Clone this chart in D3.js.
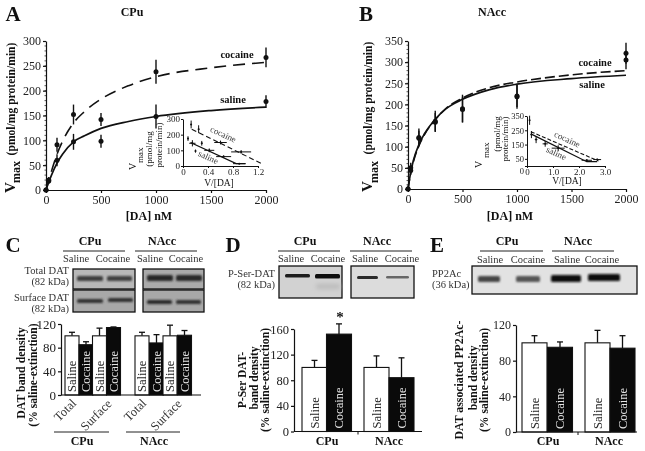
<!DOCTYPE html>
<html>
<head>
<meta charset="utf-8">
<script src="https://d3js.org/d3.v7.min.js"></script>
<style>
  html, body { margin: 0; padding: 0; background: #fff; }
  svg { filter: blur(0.3px); }
  svg text { font-family: "Liberation Serif", serif; fill: #111; }
</style>
</head>
<body>
<svg id="fig" width="645" height="451"></svg>
<script>
// Panel A values
var doseTicks = [0, 500, 1000, 1500, 2000];
var curveDoses = [0, 25, 50, 100, 150, 250, 350, 500, 750, 1000, 1500, 2000];
var aSalineCurve = [0, 16, 30, 54, 72, 97, 109, 124, 138, 148, 160, 167];
var aCocaineCurve = [0, 19, 38, 72, 98, 135, 158, 183, 210, 228, 246, 257];
var pointDoses = [0, 25, 100, 250, 500, 1000, 2000];
var aSalineY = [0, 18, 60, 97, 98, 148, 178];
var aSalineErr = [0, 6, 12, 16, 13, 24, 13];
var aCocaineY = [0, 20, 91, 152, 142, 238, 267];
var aCocaineErr = [0, 6, 14, 20, 13, 24, 20];
var aInsetCocaineLineX = [0.14, 1.26];
var aInsetCocaineLineY = [235, 15];
var aInsetSalineLineX = [0.12, 0.85, 1.0];
var aInsetSalineLineY = [150, 15, 15];
var aInsetX = [0.13, 0.25, 0.6, 0.93, 0.08, 0.15, 0.3, 0.2, 0.42, 0.65, 0.9];
var aInsetY = [265, 235, 150, 90, 175, 145, 145, 95, 100, 60, 15];
var aInsetXErr = [0.01, 0.01, 0.1, 0.16, 0.01, 0.05, 0.01, 0.01, 0.08, 0.12, 0.1];
var aInsetYErr = [25, 25, 12, 12, 15, 20, 15, 10, 12, 8, 3];

// Panel B values
var bSalineCurve = [0, 40, 68, 105, 130, 165, 190, 212, 235, 248, 261, 269];
var bCocaineCurve = [0, 38, 65, 102, 128, 164, 191, 215, 240, 253, 270, 280];
var bSalineY = [0, 50, 122, 160, 190, 218, 305];
var bSalineErr = [0, 12, 21, 25, 33, 28, 22];
var bCocaineY = [0, 44, 120, 158, 188, 220, 321];
var bCocaineErr = [0, 10, 18, 22, 30, 26, 25];
var bInsetCocaineLineX = [0.15, 2.75];
var bInsetCocaineLineY = [240, 35];
var bInsetSalineLineX = [0.15, 2.3, 2.7];
var bInsetSalineLineY = [225, 30, 30];
var bInsetX = [0.1, 0.17, 0.35, 0.7, 1.2, 2.3, 2.7];
var bInsetY = [320, 220, 185, 155, 125, 40, 45];
var bInsetXErr = [0.01, 0.03, 0.05, 0.1, 0.25, 0.2, 0.15];
var bInsetYErr = [32, 25, 25, 20, 20, 8, 6];

// Bar panels
var cLabels = ["Saline", "Cocaine", "Saline", "Cocaine", "Saline", "Cocaine", "Saline", "Cocaine"];
var cValues = [100, 85, 100, 114, 100, 88, 100, 101];
var cErrors = [6, 5, 13, 1, 6, 14, 18, 8];
var cTicks = [0, 40, 80, 120];
var dLabels = ["Saline", "Cocaine", "Saline", "Cocaine"];
var dValues = [100, 152, 100, 84];
var dErrors = [11, 16, 18, 31];
var dTicks = [0, 40, 80, 120, 160];
var eLabels = ["Saline", "Cocaine", "Saline", "Cocaine"];
var eValues = [100, 95, 100, 94];
var eErrors = [8, 6, 14, 14];
var eTicks = [0, 40, 80, 120];

var svg = d3.select("#fig");
var defs = svg.append("defs");
[0.7, 1.1, 1.6, 2.2].forEach(function (s, i) {
  defs.append("filter").attr("id", "blur" + i)
    .attr("x", "-20%").attr("y", "-150%").attr("width", "140%").attr("height", "400%")
    .append("feGaussianBlur").attr("stdDeviation", s);
});

function label(g, x, y, str, size, opts) {
  opts = opts || {};
  var t = g.append("text").attr("x", x).attr("y", y)
    .attr("font-size", size)
    .attr("text-anchor", opts.anchor || "middle")
    .attr("font-weight", opts.bold ? "bold" : "normal")
    .text(str);
  if (opts.fill) t.style("fill", opts.fill);
  if (opts.rotate != null) t.attr("transform", "rotate(" + opts.rotate + "," + x + "," + y + ")");
  return t;
}

function styleAxis(g, size, sw) {
  g.selectAll("path").attr("stroke", "#111").attr("stroke-width", sw);
  g.selectAll("line").attr("stroke", "#111").attr("stroke-width", sw);
  g.selectAll("text").attr("font-size", size).attr("font-family", "Liberation Serif").style("fill", "#222");
}

// Saturation plot: curves, points, axes
function kinetic(cfg) {
  var g = svg.append("g");
  var x = d3.scaleLinear().domain([0, 2000]).range(cfg.xRange);
  var y = d3.scaleLinear().domain(cfg.yDomain).range(cfg.yRange);
  var line = d3.line().x(function (d) { return x(d[0]); }).y(function (d) { return y(d[1]); })
    .curve(d3.curveMonotoneX);

  var yAxis = g.append("g").attr("transform", "translate(" + cfg.xRange[0] + ",0)")
    .call(d3.axisLeft(y).tickValues(cfg.yTicks).tickSize(3).tickPadding(2).tickSizeOuter(0));
  styleAxis(yAxis, 12, 1.2);
  var xAxis = g.append("g").attr("transform", "translate(0," + cfg.yRange[0] + ")")
    .call(d3.axisBottom(x).tickValues(doseTicks).tickSize(3).tickPadding(2).tickSizeOuter(0).tickFormat(d3.format("d")));
  styleAxis(xAxis, 12, 1.2);
  // minor ticks
  g.selectAll(".minorY").data(d3.range(cfg.yDomain[0], cfg.yDomain[1], cfg.yMinor)).enter().append("line")
    .attr("x1", cfg.xRange[0] - 1.5).attr("x2", cfg.xRange[0])
    .attr("y1", function (d) { return y(d); }).attr("y2", function (d) { return y(d); })
    .attr("stroke", "#111").attr("stroke-width", 0.7);

  g.append("path").datum(d3.zip(curveDoses, cfg.cocaine)).attr("d", line)
    .attr("fill", "none").attr("stroke", "#111").attr("stroke-width", 1.6).attr("stroke-dasharray", cfg.dash);
  g.append("path").datum(d3.zip(curveDoses, cfg.saline)).attr("d", line)
    .attr("fill", "none").attr("stroke", "#111").attr("stroke-width", 1.7);

  [[cfg.salineY, cfg.salineErr], [cfg.cocaineY, cfg.cocaineErr]].forEach(function (s) {
    pointDoses.forEach(function (dose, i) {
      g.append("line").attr("x1", x(dose)).attr("x2", x(dose))
        .attr("y1", y(s[0][i] - s[1][i])).attr("y2", y(s[0][i] + s[1][i]))
        .attr("stroke", "#111").attr("stroke-width", 1.4);
      g.append("circle").attr("cx", x(dose)).attr("cy", y(s[0][i])).attr("r", 2.5).attr("fill", "#111");
    });
  });
  return g;
}

// Lineweaver style inset
function inset(cfg) {
  var g = svg.append("g");
  var x = d3.scaleLinear().domain(cfg.xDomain).range(cfg.xRange);
  var y = d3.scaleLinear().domain(cfg.yDomain).range(cfg.yRange);
  var yAxis = g.append("g").attr("transform", "translate(" + cfg.xRange[0] + ",0)")
    .call(d3.axisLeft(y).tickValues(cfg.yTicks).tickSize(2).tickPadding(1).tickSizeOuter(0));
  styleAxis(yAxis, cfg.tickFont || 9, 1);
  // the zero label sits a little low so it clears the tick above it
  if (cfg.zeroDy) {
    yAxis.selectAll(".tick text").filter(function (d) { return d === 0; }).attr("dy", cfg.zeroDy);
  }
  var xAxis = g.append("g").attr("transform", "translate(0," + cfg.yRange[0] + ")")
    .call(d3.axisBottom(x).tickValues(cfg.xTicks).tickSize(2).tickPadding(1).tickSizeOuter(0)
      .tickFormat(function (d) { return d === 0 ? "0" : d3.format(".1f")(d); }));
  styleAxis(xAxis, 9, 1);
  var line = d3.line().x(function (d) { return x(d[0]); }).y(function (d) { return y(d[1]); });
  g.append("path").datum(d3.zip(cfg.cocX, cfg.cocY)).attr("d", line)
    .attr("fill", "none").attr("stroke", "#111").attr("stroke-width", 1.1).attr("stroke-dasharray", cfg.dash);
  g.append("path").datum(d3.zip(cfg.salX, cfg.salY)).attr("d", line)
    .attr("fill", "none").attr("stroke", "#111").attr("stroke-width", 1.3);
  cfg.px.forEach(function (px, i) {
    var py = cfg.py[i];
    g.append("line").attr("x1", x(px - cfg.pxe[i])).attr("x2", x(px + cfg.pxe[i]))
      .attr("y1", y(py)).attr("y2", y(py)).attr("stroke", "#111").attr("stroke-width", 1);
    g.append("line").attr("x1", x(px)).attr("x2", x(px))
      .attr("y1", y(py - cfg.pye[i])).attr("y2", y(py + cfg.pye[i])).attr("stroke", "#111").attr("stroke-width", 1);
    g.append("circle").attr("cx", x(px)).attr("cy", y(py)).attr("r", 1).attr("fill", "#111");
  });
  return g;
}

// Bar chart with error caps
function bars(cfg) {
  var g = svg.append("g");
  var y = d3.scaleLinear().domain([0, cfg.yMax]).range(cfg.yRange);
  var x = d3.scaleBand().domain(d3.range(cfg.values.length)).range(cfg.xRange);
  var barX = function (i) { return cfg.barX ? cfg.barX(i) : x(i); };
  var barW = cfg.barW || x.bandwidth();

  cfg.values.forEach(function (v, i) {
    var cx = barX(i) + barW / 2;
    var capW = cfg.capW;
    g.append("line").attr("x1", cx).attr("x2", cx).attr("y1", y(v)).attr("y2", y(v + cfg.errors[i]))
      .attr("stroke", "#111").attr("stroke-width", 1.3);
    g.append("line").attr("x1", cx - capW).attr("x2", cx + capW)
      .attr("y1", y(v + cfg.errors[i])).attr("y2", y(v + cfg.errors[i]))
      .attr("stroke", "#111").attr("stroke-width", 1.3);
    var dark = cfg.labels[i] === "Cocaine";
    g.append("rect").attr("x", barX(i)).attr("y", y(v)).attr("width", barW).attr("height", y(0) - y(v))
      .attr("fill", dark ? "#0a0a0a" : "#fff").attr("stroke", "#111").attr("stroke-width", 1.1);
    var tx = cx + cfg.labelSize * 0.33;
    g.append("text").attr("transform", "translate(" + tx + "," + (y(0) - 3) + ") rotate(-90)")
      .attr("font-size", cfg.labelSize).style("fill", dark ? "#e4e4e4" : "#222").text(cfg.labels[i]);
  });

  var yAxis = g.append("g").attr("transform", "translate(" + cfg.axisX + ",0)")
    .call(d3.axisLeft(y).tickValues(cfg.ticks).tickSize(3).tickPadding(2).tickSizeOuter(0));
  styleAxis(yAxis, cfg.tickFont, 1.2);
  g.append("line").attr("x1", cfg.axisX).attr("x2", cfg.baseEnd).attr("y1", y(0)).attr("y2", y(0))
    .attr("stroke", "#111").attr("stroke-width", 1.2);
  if (cfg.midTick) {
    g.append("line").attr("x1", cfg.midTick).attr("x2", cfg.midTick).attr("y1", y(0)).attr("y2", y(0) + 3)
      .attr("stroke", "#111").attr("stroke-width", 1);
  }
  return { g: g, y: y };
}

// Western blot box with soft bands
function blot(x, y, w, h, bg, bands) {
  var g = svg.append("g");
  g.append("rect").attr("x", x).attr("y", y).attr("width", w).attr("height", h)
    .attr("fill", bg).attr("stroke", "#111").attr("stroke-width", 1.3);
  bands.forEach(function (b) {
    g.append("rect").attr("x", b[0]).attr("y", b[1]).attr("width", b[2]).attr("height", b[3])
      .attr("rx", 1.5).attr("fill", b[4]).attr("filter", "url(#blur" + b[5] + ")");
  });
}

function rule(x1, x2, y) {
  svg.append("line").attr("x1", x1).attr("x2", x2).attr("y1", y).attr("y2", y)
    .attr("stroke", "#222").attr("stroke-width", 1);
}

function groupHeader(cpuX, naccX, y, r1, r2, subs, subY) {
  label(svg, cpuX, y, "CPu", 12, { bold: true });
  label(svg, naccX, y, "NAcc", 12, { bold: true });
  rule(r1[0], r1[1], 251);
  rule(r2[0], r2[1], 251);
  ["Saline", "Cocaine", "Saline", "Cocaine"].forEach(function (s, i) {
    label(svg, subs[i], subY, s, 10.5, { fill: "#333" });
  });
}

// A
kinetic({
  xRange: [46, 266], yRange: [190, 41], yDomain: [0, 300], yTicks: d3.range(0, 301, 50), yMinor: 10,
  saline: aSalineCurve, cocaine: aCocaineCurve, dash: "12 7",
  salineY: aSalineY, salineErr: aSalineErr, cocaineY: aCocaineY, cocaineErr: aCocaineErr
});
label(svg, 13, 21, "A", 21, { bold: true });
label(svg, 132, 16, "CPu", 12, { bold: true });
label(svg, 237, 58, "cocaine", 10.5, { bold: true });
label(svg, 233, 103, "saline", 10.5, { bold: true });
label(svg, 149, 220, "[DA] nM", 12, { bold: true });
label(svg, 15, 99, "(pmol/mg protein/min)", 11.6, { bold: true, rotate: -90 });
label(svg, 15, 193, "V", 15, { bold: true, rotate: -90, anchor: "start" });
label(svg, 20, 183, "max", 12, { bold: true, rotate: -90, anchor: "start" });
inset({
  xDomain: [0, 1.2], xRange: [183, 258], yDomain: [0, 300], yRange: [166, 119],
  xTicks: [0, 0.4, 0.8, 1.2], yTicks: [0, 100, 200, 300], dash: "5 3",
  cocX: aInsetCocaineLineX, cocY: aInsetCocaineLineY, salX: aInsetSalineLineX, salY: aInsetSalineLineY,
  px: aInsetX, py: aInsetY, pxe: aInsetXErr, pye: aInsetYErr
});
label(svg, 222, 137, "cocaine", 9, { rotate: 25, fill: "#333" });
label(svg, 207, 160, "saline", 9, { rotate: 25, fill: "#333" });
label(svg, 219, 186, "V/[DA]", 9.5);
label(svg, 136, 170, "V", 10, { rotate: -90, anchor: "start" });
label(svg, 143, 163, "max", 9, { rotate: -90, anchor: "start" });
label(svg, 152, 149, "(pmol/mg", 9, { rotate: -90 });
label(svg, 162, 145, "protein/min)", 9, { rotate: -90 });

// B
kinetic({
  xRange: [408, 626], yRange: [189, 41], yDomain: [0, 350], yTicks: d3.range(0, 351, 50), yMinor: 10,
  saline: bSalineCurve, cocaine: bCocaineCurve, dash: "10 4",
  salineY: bSalineY, salineErr: bSalineErr, cocaineY: bCocaineY, cocaineErr: bCocaineErr
});
label(svg, 366, 21, "B", 21, { bold: true });
label(svg, 492, 16, "NAcc", 12, { bold: true });
label(svg, 595, 66, "cocaine", 10.5, { bold: true });
label(svg, 592, 88, "saline", 10.5, { bold: true });
label(svg, 510, 220, "[DA] nM", 12, { bold: true });
label(svg, 372, 98, "(pmol/mg protein/min)", 11.6, { bold: true, rotate: -90 });
label(svg, 372, 192, "V", 15, { bold: true, rotate: -90, anchor: "start" });
label(svg, 378, 183, "max", 12, { bold: true, rotate: -90, anchor: "start" });
inset({
  xDomain: [0, 3], xRange: [527, 605], yDomain: [0, 350], yRange: [166, 116],
  xTicks: [0, 1, 2, 3], yTicks: [0, 50, 150, 250, 350], dash: "4 2", tickFont: 8.5, zeroDy: "0.85em",
  cocX: bInsetCocaineLineX, cocY: bInsetCocaineLineY, salX: bInsetSalineLineX, salY: bInsetSalineLineY,
  px: bInsetX, py: bInsetY, pxe: bInsetXErr, pye: bInsetYErr
});
label(svg, 566, 142, "cocaine", 9, { rotate: 25, fill: "#333" });
label(svg, 555, 156, "saline", 9, { rotate: 25, fill: "#333" });
label(svg, 567, 184, "V/[DA]", 9.5);
label(svg, 482, 168, "V", 10, { rotate: -90, anchor: "start" });
label(svg, 489, 158, "max", 9, { rotate: -90, anchor: "start" });
label(svg, 500, 134, "(pmol/mg", 9, { rotate: -90 });
label(svg, 508, 139, "protein/min)", 9, { rotate: -90 });

// C
bars({
  values: cValues, errors: cErrors, labels: cLabels, ticks: cTicks, yMax: 120, yRange: [395, 324],
  xRange: [65, 192], barW: 14, capW: 3, axisX: 61, baseEnd: 201, tickFont: 13, labelSize: 12.5,
  barX: function (i) { return [65, 79, 92.5, 106.5, 135, 149.5, 163, 177.5][i]; }
});
label(svg, 13, 252, "C", 21, { bold: true });
groupHeader(90, 162, 245, [63, 125], [135, 197], [76, 113, 150, 186], 262);
label(svg, 69, 274, "Total DAT", 10.5, { anchor: "end", fill: "#333" });
label(svg, 69, 285, "(82 kDa)", 10.5, { anchor: "end", fill: "#333" });
label(svg, 69, 301, "Surface DAT", 10.5, { anchor: "end", fill: "#333" });
label(svg, 69, 312, "(82 kDa)", 10.5, { anchor: "end", fill: "#333" });
blot(73, 269, 62, 20, "#b8b8b8", [[77, 276, 26, 5, "#3c3c3c", 1], [107, 276, 25, 5, "#3f3f3f", 1]]);
blot(73, 290, 62, 22, "#a8a8a8", [[77, 299, 26, 4, "#333", 1], [108, 298, 25, 4, "#333", 1]]);
blot(143, 269, 61, 20, "#aaaaaa", [[147, 275, 26, 6, "#262626", 1], [176, 275, 26, 6, "#2c2c2c", 1]]);
blot(143, 290, 61, 22, "#a8a8a8", [[147, 300, 25, 4, "#2a2a2a", 1], [176, 300, 25, 4, "#303030", 1]]);
label(svg, 25, 373, "DAT band density", 11.8, { bold: true, rotate: -90 });
label(svg, 37, 375, "(% saline-extinction)", 11.6, { bold: true, rotate: -90 });
[["Total", 68, 413], ["Surface", 99, 418], ["Total", 138, 413], ["Surface", 169, 418]].forEach(function (d) {
  label(svg, d[1], d[2], d[0], 12.5, { rotate: -45, fill: "#333" });
});
rule(54, 109, 432); rule(126, 180, 432);
label(svg, 82, 445, "CPu", 12, { bold: true });
label(svg, 154, 445, "NAcc", 12, { bold: true });

// D
bars({
  values: dValues, errors: dErrors, labels: dLabels, ticks: dTicks, yMax: 160, yRange: [431.5, 329],
  xRange: [302, 414], barW: 25, capW: 3, axisX: 294, baseEnd: 422, tickFont: 12.5, labelSize: 12.5, midTick: 358,
  barX: function (i) { return [302, 326.5, 364, 389][i]; }
});
label(svg, 233, 252, "D", 21, { bold: true });
groupHeader(305, 377, 245, [278, 340], [350, 412], [291, 328, 365, 402], 262);
label(svg, 275, 277, "P-Ser-DAT", 10.5, { anchor: "end", fill: "#333" });
label(svg, 275, 288, "(82 kDa)", 10.5, { anchor: "end", fill: "#333" });
blot(279, 266, 63, 32, "#d2d2d2", [[285, 274, 25, 3.5, "#1e1e1e", 0], [315, 274, 25, 4.5, "#111", 0], [316, 284, 24, 5, "#bbb", 3]]);
blot(351, 266, 63, 32, "#dcdcdc", [[357, 276, 21, 3, "#2a2a2a", 0], [386, 276, 23, 2.5, "#666", 0]]);
label(svg, 340, 322, "*", 15, { bold: true });
label(svg, 246, 380, "P-Ser DAT-", 11.5, { bold: true, rotate: -90 });
label(svg, 258, 378, "band density", 11.5, { bold: true, rotate: -90 });
label(svg, 269, 380, "(% saline-extinction)", 11.7, { bold: true, rotate: -90 });
label(svg, 327, 445, "CPu", 12, { bold: true });
label(svg, 389, 445, "NAcc", 12, { bold: true });

// E
bars({
  values: eValues, errors: eErrors, labels: eLabels, ticks: eTicks, yMax: 120, yRange: [432, 325],
  xRange: [522, 636], barW: 25, capW: 3, axisX: 516, baseEnd: 637, tickFont: 12, labelSize: 12.5, midTick: 578,
  barX: function (i) { return [522, 547.5, 585, 610][i]; }
});
label(svg, 437, 252, "E", 21, { bold: true });
groupHeader(507, 578, 245, [480, 543], [552, 614], [490, 528, 567, 602], 263);
label(svg, 432, 277, "PP2Ac", 10.5, { anchor: "start", fill: "#333" });
label(svg, 432, 288, "(36 kDa)", 10.5, { anchor: "start", fill: "#333" });
blot(472, 266, 165, 28, "#e2e2e2", [[478, 276, 22, 6, "#444", 1], [516, 276, 24, 6, "#555", 1], [551, 275, 30, 7, "#111", 1], [588, 274, 32, 7, "#080808", 1]]);
label(svg, 463, 380, "DAT associated PP2Ac-", 11.8, { bold: true, rotate: -90 });
label(svg, 477, 378, "band density", 11.8, { bold: true, rotate: -90 });
label(svg, 488, 380, "(% saline-extinction)", 11.7, { bold: true, rotate: -90 });
label(svg, 548, 445, "CPu", 12, { bold: true });
label(svg, 609, 445, "NAcc", 12, { bold: true });
</script>
</body>
</html>
